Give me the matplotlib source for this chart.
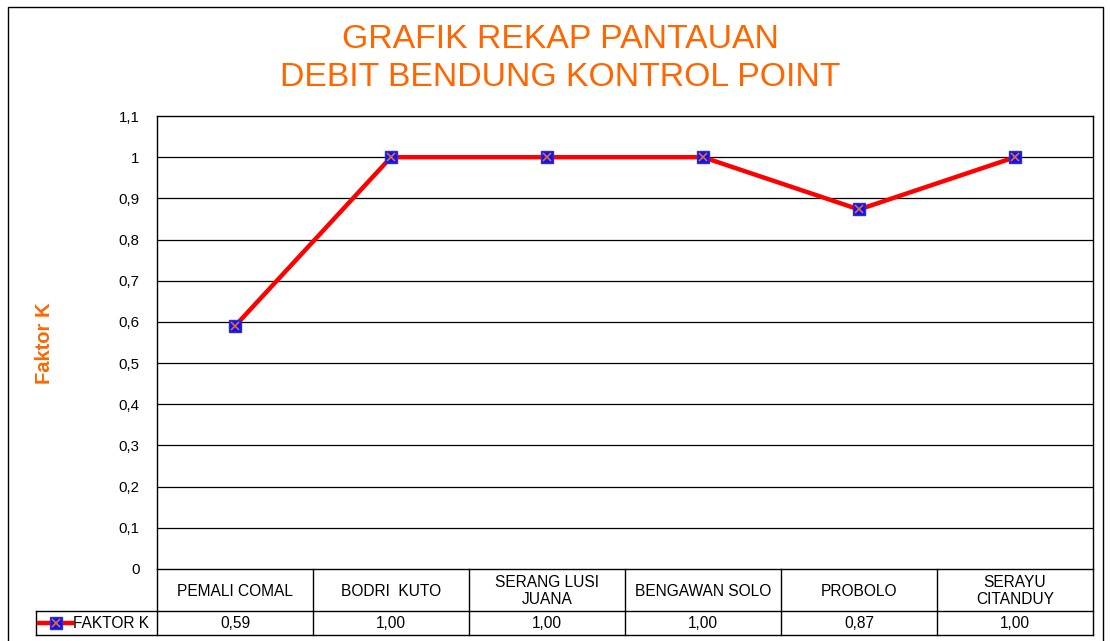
import matplotlib
matplotlib.use("Agg")
import matplotlib.pyplot as plt
import matplotlib.patches as patches
from matplotlib.lines import Line2D

# data
categories = ["PEMALI COMAL", "BODRI  KUTO", "SERANG LUSI\nJUANA",
              "BENGAWAN SOLO", "PROBOLO", "SERAYU\nCITANDUY"]
faktor_k = [0.59, 1.00, 1.00, 1.00, 0.873, 1.00]
series_name = "FAKTOR K"
y_ticks = [0, 0.1, 0.2, 0.3, 0.4, 0.5, 0.6, 0.7, 0.8, 0.9, 1.0, 1.1]

W, H = 1110, 641
ORANGE = "#FF6600"

fig = plt.figure(figsize=(W / 100, H / 100), dpi=100)
plt.rcParams['font.family'] = ['Liberation Sans', 'DejaVu Sans']


def fx(px):
    return px / W


def fy(py):
    return 1 - py / H


# outer frame
fig.patches.append(patches.Rectangle((fx(8), fy(645)), fx(1103) - fx(8), fy(7) - fy(645),
                                     transform=fig.transFigure, fill=False,
                                     edgecolor="black", linewidth=1.0))

# plot area
left, right, top, bottom = 157, 1093, 116, 569
ax = fig.add_axes([fx(left), fy(bottom), fx(right) - fx(left), fy(top) - fy(bottom)])
n = len(categories)
xs = list(range(n))
ax.set_xlim(-0.5, n - 0.5)
ax.set_ylim(0, 1.1)
ax.set_yticks(y_ticks)
ax.set_yticklabels([f"{t:g}".replace(".", ",") for t in y_ticks], fontsize=10.8)
ax.tick_params(axis="y", length=0, pad=12.5)
ax.set_xticks([])
for t in y_ticks[1:-1]:
    ax.axhline(t, color="black", linewidth=0.9, zorder=1)
for s in ax.spines.values():
    s.set_linewidth(1.0)

ax.plot(xs, faktor_k, color="red", linewidth=3.2, zorder=3, clip_on=False)
ax.plot(xs, faktor_k, linestyle="none", marker="s", markersize=8.5,
        markerfacecolor="#1010FF", markeredgecolor="#3030C0", zorder=4, clip_on=False)
ax.plot(xs, faktor_k, linestyle="none", marker="x", markersize=6,
        markeredgecolor="#E07020", markeredgewidth=1.2, zorder=5, clip_on=False)

# title and y label
fig.text(0.505, fy(40), "GRAFIK REKAP PANTAUAN", ha="center", va="center",
         fontsize=24.3, color=ORANGE)
fig.text(0.505, fy(78), "DEBIT BENDUNG KONTROL POINT", ha="center", va="center",
         fontsize=24.3, color=ORANGE)
fig.text(fx(44), fy(343), "Faktor K", rotation=90, ha="center", va="center",
         fontsize=14.5, fontweight="bold", color=ORANGE)

# data table below the plot
row1_bot, row2_bot, leg_left = 611, 635, 36
col_w = (right - left) / n
lw = 1.0


def hline(x0, x1, y):
    fig.add_artist(Line2D([fx(x0), fx(x1)], [fy(y), fy(y)], color="black", linewidth=lw))


def vline(x, y0, y1):
    fig.add_artist(Line2D([fx(x), fx(x)], [fy(y0), fy(y1)], color="black", linewidth=lw))


hline(left, right, row1_bot)
hline(leg_left, right, row2_bot)
hline(leg_left, left, row1_bot)
vline(leg_left, row1_bot, row2_bot)
vline(left, bottom, row2_bot)
for i in range(1, n + 1):
    vline(left + i * col_w, bottom, row2_bot)

for i, (cat, val) in enumerate(zip(categories, faktor_k)):
    cx = left + (i + 0.5) * col_w
    fig.text(fx(cx), fy((bottom + row1_bot) / 2 + 1), cat, ha="center", va="center",
             fontsize=11.2, linespacing=1.15)
    fig.text(fx(cx), fy((row1_bot + row2_bot) / 2 + 1), f"{val:.2f}".replace(".", ","),
             ha="center", va="center", fontsize=11.2)

# legend key inside the table
ky = fy((row1_bot + row2_bot) / 2)
fig.add_artist(Line2D([fx(39), fx(72)], [ky, ky], color="red", linewidth=3.2))
fig.add_artist(Line2D([fx(55.5)], [ky], linestyle="none", marker="s", markersize=8.5,
                      markerfacecolor="#1010FF", markeredgecolor="#3030C0"))
fig.add_artist(Line2D([fx(55.5)], [ky], linestyle="none", marker="x", markersize=6,
                      markeredgecolor="#E07020", markeredgewidth=1.2))
fig.text(fx(73), fy((row1_bot + row2_bot) / 2 + 1), series_name, ha="left", va="center",
         fontsize=11.2)

fig.savefig("out.png", dpi=100)
